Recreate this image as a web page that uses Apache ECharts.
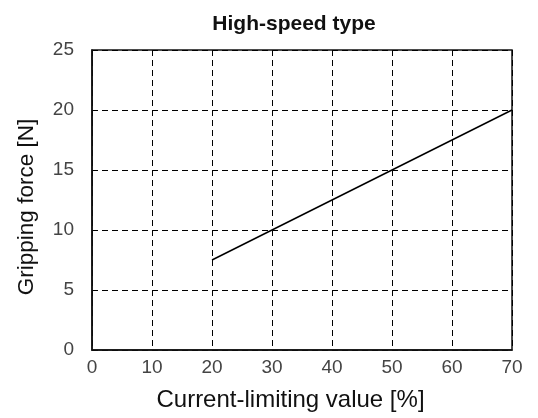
<!DOCTYPE html>
<html>
<head>
<meta charset="utf-8">
<script src="https://cdn.jsdelivr.net/npm/echarts@6/dist/echarts.min.js"></script>
<style>html,body{margin:0;padding:0;background:#fff;}#c{width:538px;height:418px;}</style>
</head>
<body>
<div id="c"></div>
<script>
const titleText = 'High-speed type';
const xName = 'Current-limiting value [%]';
const yName = 'Gripping force [N]';
const currentLimit = [20, 30, 40, 50, 60, 70];
const grippingForce = [7.5, 10, 12.5, 15, 17.5, 20];

const chart = echarts.init(document.getElementById('c'));
const gridLine = {show: true, lineStyle: {color: '#000', type: [6, 4], width: 1}};
chart.setOption({
  animation: false,
  title: {text: titleText, left: 289, top: 9, textAlign: 'center',
    textStyle: {fontFamily: 'Liberation Sans', fontSize: 21, fontWeight: 'bold', color: '#111'}},
  grid: {left: 92, right: 26, top: 50, bottom: 68, show: true, borderColor: '#111', borderWidth: 1.5},
  xAxis: {type: 'value', min: 0, max: 70, interval: 10,
    name: xName, nameLocation: 'middle', nameGap: 38,
    nameTextStyle: {fontFamily: 'Liberation Sans', fontSize: 24, color: '#111', padding: [0, 23, 0, 0]},
    axisLine: {show: true, lineStyle: {color: '#111', width: 1.5}},
    axisTick: {show: false},
    axisLabel: {fontFamily: 'Liberation Sans', fontSize: 19, color: '#444', margin: 8},
    splitLine: gridLine},
  yAxis: {type: 'value', min: 0, max: 25, interval: 5,
    name: yName, nameLocation: 'middle', nameGap: 54,
    nameTextStyle: {fontFamily: 'Liberation Sans', fontSize: 22.5, color: '#111', padding: [0, 14, 0, 0]},
    axisLine: {show: true, lineStyle: {color: '#111', width: 1.5}},
    axisTick: {show: false},
    axisLabel: {fontFamily: 'Liberation Sans', fontSize: 19, color: '#444', margin: 18},
    splitLine: gridLine},
  series: [{type: 'line', data: currentLimit.map((x, i) => [x, grippingForce[i]]),
    showSymbol: false, lineStyle: {color: '#000', width: 1.5}}]
});
</script>
</body>
</html>
